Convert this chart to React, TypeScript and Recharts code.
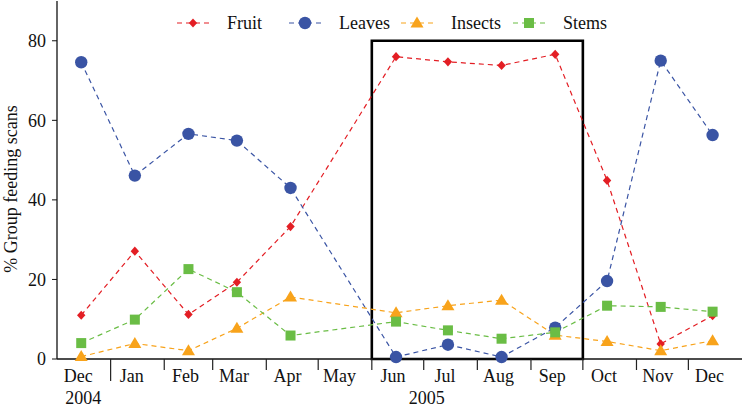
import React from 'react';
import {
  LineChart,
  Line,
  XAxis,
  YAxis,
  ReferenceArea,
  Legend,
  Label,
} from 'recharts';

// sampling months (year, month index) and their labels
const sampleMonths: [number, number][] = [
  [2004, 11], [2005, 0], [2005, 1], [2005, 2], [2005, 3], [2005, 4], [2005, 5],
  [2005, 6], [2005, 7], [2005, 8], [2005, 9], [2005, 10], [2005, 11],
];
const monthLabels = ['Dec', 'Jan', 'Feb', 'Mar', 'Apr', 'May', 'Jun', 'Jul', 'Aug', 'Sep', 'Oct', 'Nov', 'Dec'];

// % of group feeding scans (May not sampled)
const fruit = [11.0, 27.1, 11.2, 19.3, 33.3, null, 76.0, 74.7, 73.8, 76.6, 44.9, 3.8, 10.9];
const leaves = [74.6, 46.1, 56.6, 54.9, 43.0, null, 0.5, 3.6, 0.5, 7.9, 19.6, 75.0, 56.3];
const insects = [0.6, 3.9, 2.1, 7.7, 15.6, null, 11.6, 13.4, 14.8, 6.0, 4.4, 2.1, 4.6];
const stems = [4.0, 9.9, 22.6, 16.8, 5.9, null, 9.4, 7.2, 5.1, 6.7, 13.4, 13.1, 11.9];

const yTicks = [0, 20, 40, 60, 80];

const mid = (y: number, m: number) => Date.UTC(y, m, 15);
const first = (y: number, m: number) => Date.UTC(y, m, 1);

const xDomain = [first(2004, 11), first(2006, 0)];
const midTicks = sampleMonths.map(([y, m]) => mid(y, m));
const boundaryTicks = sampleMonths.slice(1).map(([y, m]) => first(y, m));
const yearBoundary = first(2005, 0);
const labelYears: Record<number, string> = { [mid(2004, 11)]: '2004', [first(2005, 6)]: '2005' };
const boxRange = [first(2005, 5), first(2005, 9)];

const data = sampleMonths.map(([y, m], i) => ({
  t: mid(y, m),
  label: monthLabels[i],
  fruit: fruit[i],
  leaves: leaves[i],
  insects: insects[i],
  stems: stems[i],
}));

const FONT = '"Liberation Serif", "Times New Roman", serif';

const series = [
  { key: 'fruit', name: 'Fruit', color: '#E31E24', shape: 'diamond' },
  { key: 'leaves', name: 'Leaves', color: '#3A54A4', shape: 'circle' },
  { key: 'insects', name: 'Insects', color: '#F8A31B', shape: 'triangle' },
  { key: 'stems', name: 'Stems', color: '#6ABD45', shape: 'square' },
];

const MarkerShape = ({ cx, cy, shape, color }: any) => {
  if (shape === 'circle') return <circle cx={cx} cy={cy} r={6.2} fill={color} />;
  if (shape === 'diamond')
    return <polygon points={`${cx},${cy - 4.6} ${cx + 4.2},${cy} ${cx},${cy + 4.6} ${cx - 4.2},${cy}`} fill={color} />;
  if (shape === 'triangle')
    return <polygon points={`${cx},${cy - 6.5} ${cx + 6.5},${cy + 4.5} ${cx - 6.5},${cy + 4.5}`} fill={color} />;
  return <rect x={cx - 5} y={cy - 5} width={10} height={10} fill={color} />;
};

const makeDot = (shape: string, color: string) => (props: any) => {
  const { cx, cy, index } = props;
  if (cx == null || cy == null || props.value == null) return <g key={`d-${shape}-${index}`} />;
  return <MarkerShape key={`d-${shape}-${index}`} cx={cx} cy={cy} shape={shape} color={color} />;
};

const XTick = (props: any) => {
  const { x, y, payload } = props;
  const v = payload.value;
  const year = labelYears[v];
  if (boundaryTicks.includes(v)) {
    return (
      <g>
        <line x1={x} x2={x} y1={y} y2={y + (v === yearBoundary ? 22 : 11)} stroke="#222" strokeWidth={1.2} />
        {year && (
          <text x={x + 3} y={y + 45} textAnchor="middle" fontSize={18} fontFamily={FONT} fill="#111">{year}</text>
        )}
      </g>
    );
  }
  const idx = midTicks.indexOf(v);
  return (
    <g>
      <text x={x - 3} y={y + 23} textAnchor="middle" fontSize={18} fontFamily={FONT} fill="#111">
        {monthLabels[idx]}
      </text>
      {year && (
        <text x={x + 2} y={y + 45} textAnchor="middle" fontSize={18} fontFamily={FONT} fill="#111">{year}</text>
      )}
    </g>
  );
};

const YTitle = (props: any) => {
  const vb = props.viewBox || { y: 1, height: 358 };
  const cy = vb.y + vb.height / 2 + 9;
  return (
    <text
      x={16.5}
      y={cy}
      transform={`rotate(-90, 16.5, ${cy})`}
      textAnchor="middle"
      fontSize={18}
      fontFamily={FONT}
      fill="#111"
    >
      % Group feeding scans
    </text>
  );
};

const LegendContent = () => (
  <div style={{ display: 'flex', fontFamily: FONT, fontSize: 18, color: '#111' }}>
    {series.map((s) => (
      <div key={s.key} style={{ width: 112, display: 'flex', alignItems: 'center' }}>
        <svg width={32} height={16} style={{ display: 'block' }}>
          <line x1={0} x2={32} y1={8} y2={8} stroke={s.color} strokeWidth={1.2} strokeDasharray="5 4" />
          <MarkerShape cx={16} cy={8} shape={s.shape} color={s.color} />
        </svg>
        <span style={{ marginLeft: 18, lineHeight: '18px' }}>{s.name}</span>
      </div>
    ))}
  </div>
);

export default function App() {
  return (
    <div style={{ position: 'absolute', left: 0, top: 0, fontFamily: FONT }}>
      <LineChart width={745} height={408} data={data} margin={{ top: 1, right: 3, bottom: 0, left: 0 }}>
        <XAxis
          dataKey="t"
          type="number"
          scale="time"
          domain={xDomain}
          ticks={[...boundaryTicks, ...midTicks].sort((a, b) => a - b)}
          interval={0}
          tickSize={0}
          tickMargin={0}
          tickLine={false}
          tick={<XTick />}
          height={49}
          axisLine={{ stroke: '#111', strokeWidth: 1.3 }}
          allowDataOverflow
        />
        <XAxis
          xAxisId="top"
          orientation="top"
          dataKey="t"
          type="number"
          domain={xDomain}
          height={0}
          tick={false}
          tickLine={false}
          axisLine={{ stroke: '#555', strokeWidth: 1.2 }}
        />
        <YAxis
          domain={[0, 90]}
          ticks={yTicks}
          width={57}
          tickSize={5}
          tickMargin={6}
          tick={{ fontSize: 18, fontFamily: FONT, fill: '#111' }}
          tickLine={{ stroke: '#111' }}
          axisLine={{ stroke: '#111', strokeWidth: 1.3 }}
        >
          <Label content={<YTitle />} />
        </YAxis>
        <YAxis
          yAxisId="right"
          orientation="right"
          domain={[0, 90]}
          width={0}
          tick={false}
          tickLine={false}
          axisLine={{ stroke: '#555', strokeWidth: 1.2 }}
        />
        {series.map((s) => (
          <Line
            key={s.key}
            type="linear"
            dataKey={s.key}
            name={s.name}
            stroke={s.color}
            strokeWidth={1.2}
            strokeDasharray="5 4"
            connectNulls
            dot={makeDot(s.shape, s.color)}
            activeDot={false}
            isAnimationActive={false}
          />
        ))}
        <ReferenceArea
          x1={boxRange[0]}
          x2={boxRange[1]}
          y1={0}
          y2={80}
          fill="none"
          fillOpacity={0}
          stroke="#000"
          strokeWidth={2.6}
          ifOverflow="visible"
        />
        <Legend
          layout="horizontal"
          verticalAlign="middle"
          align="center"
          content={<LegendContent />}
          wrapperStyle={{ top: 14, left: 177, width: 460, height: 18 }}
        />
      </LineChart>
    </div>
  );
}
